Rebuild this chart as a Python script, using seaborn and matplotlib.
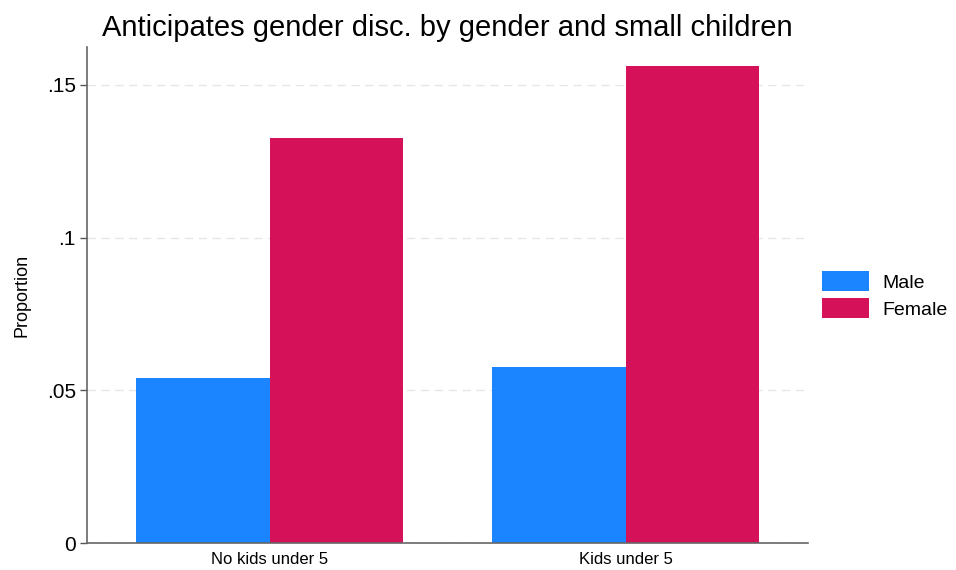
import seaborn as sns
import pandas as pd
import matplotlib.pyplot as plt

# data
groups = ['No kids under 5', 'Kids under 5']
genders = ['Male', 'Female']
male = [0.054, 0.0577]
female = [0.1325, 0.1561]

df = pd.DataFrame({
    'group': groups * 2,
    'gender': ['Male'] * 2 + ['Female'] * 2,
    'prop': male + female,
})

sns.set_style('white')
plt.rcParams['font.family'] = ['Liberation Sans', 'DejaVu Sans']
plt.rcParams['text.color'] = 'black'
plt.rcParams['xtick.color'] = 'black'
plt.rcParams['ytick.color'] = 'black'
plt.rcParams['axes.labelcolor'] = 'black'

fig = plt.figure(figsize=(9.56, 5.7), dpi=100)
ax = fig.add_axes([0.091, 0.047, 0.754, 0.871])

sns.barplot(data=df, x='group', y='prop', hue='gender', order=groups,
            hue_order=genders, palette=['#1A85FF', '#D41159'],
            width=0.75, saturation=1, errorbar=None, linewidth=0, ax=ax)

ax.set_xlim(-0.514, 1.511)
ax.set_ylim(0, 0.1624)
ax.set_yticks([0, 0.05, 0.1, 0.15])
ax.set_yticklabels(['0', '.05', '.1', '.15'], fontsize=15)
ax.tick_params(axis='y', length=5, width=1, color='#555555', left=True, pad=3)
ax.tick_params(axis='x', length=0, labelsize=12, pad=6)
ax.yaxis.grid(True, linestyle=(0, (6, 4)), color='#e6e6e6', linewidth=1)
ax.set_axisbelow(True)

for s in ['top', 'right']:
    ax.spines[s].set_visible(False)
for s in ['left', 'bottom']:
    ax.spines[s].set_color('#666666')
    ax.spines[s].set_linewidth(1.2)

ax.set_xlabel('')
ax.set_ylabel('Proportion', fontsize=13, labelpad=12)
ax.set_title('Anticipates gender disc. by gender and small children',
             fontsize=21, pad=8, color='black')

ax.legend(loc='center left', bbox_to_anchor=(1.0, 0.5), frameon=False,
          fontsize=14, handlelength=2.4, handleheight=1.2,
          handletextpad=0.7, labelspacing=0.35, borderaxespad=0.35)

fig.savefig('out.png', dpi=100)
